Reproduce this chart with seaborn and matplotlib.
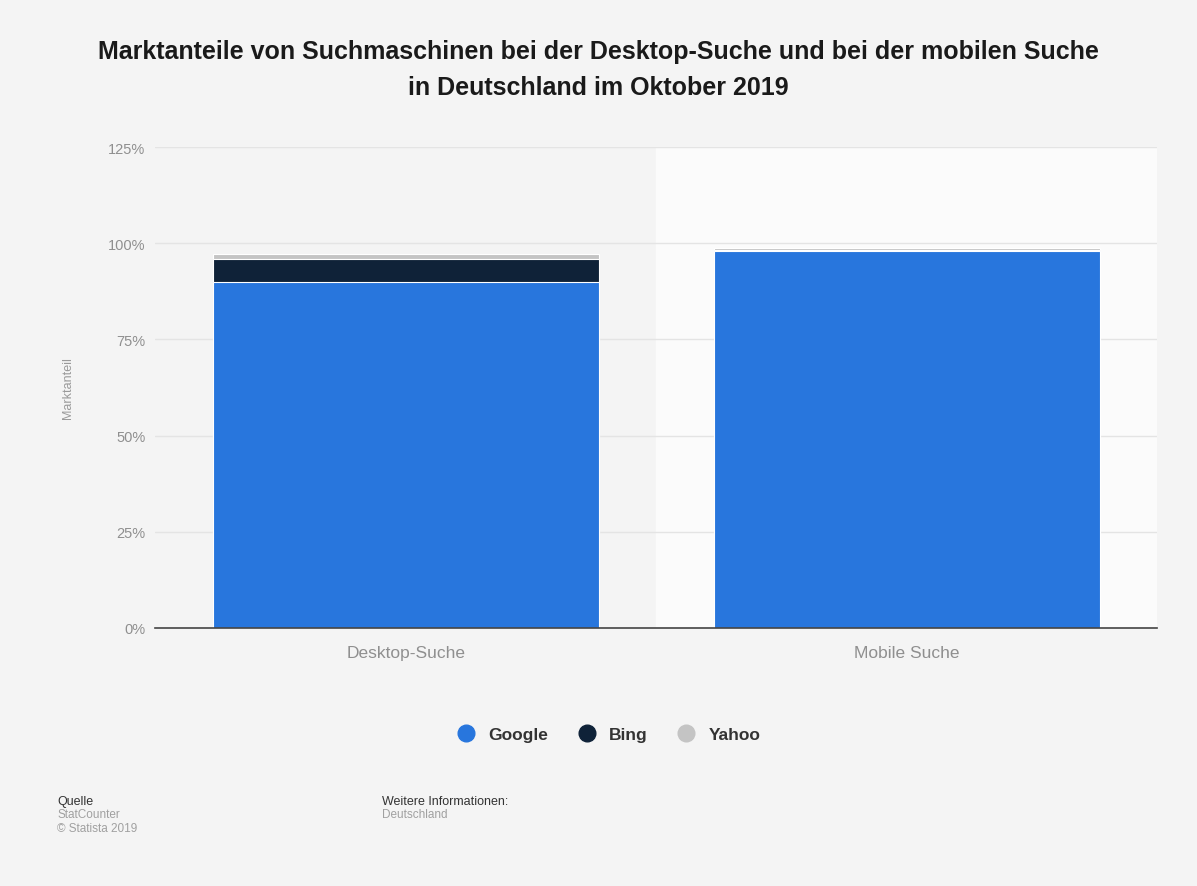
import matplotlib
matplotlib.use("Agg")
import matplotlib.pyplot as plt
import seaborn as sns
import pandas as pd
import numpy as np
from matplotlib.lines import Line2D

categories = ["Desktop-Suche", "Mobile Suche"]
google = [90.0, 97.9]
bing = [6.0, 0.3]
yahoo = [1.2, 0.5]
series_names = ["Google", "Bing", "Yahoo"]
colors = {"Google": "#2876dd", "Bing": "#0f2238", "Yahoo": "#c4c4c4"}
y_ticks = [0, 25, 50, 75, 100, 125]
y_tick_labels = ["0%", "25%", "50%", "75%", "100%", "125%"]

bg = "#f4f4f4"
sns.set_theme(style="white")
plt.rcParams["font.family"] = ["Liberation Sans", "DejaVu Sans"]

fig = plt.figure(figsize=(11.97, 8.87), dpi=100, facecolor=bg)
ax = fig.add_axes([0.1295, 0.291, 0.8375, 0.542])
ax.set_facecolor(bg)

df = pd.DataFrame({"cat": categories, "Google": google, "Bing": bing, "Yahoo": yahoo})
df["g"] = df["Google"]
df["gb"] = df["Google"] + df["Bing"]
df["gby"] = df["gb"] + df["Yahoo"]

ax.axvspan(0.5, 1.5, color="#fbfbfb", zorder=0)
for y in y_ticks[1:]:
    ax.axhline(y, color="#e4e4e4", lw=1, zorder=0.5)

for col, name in [("gby", "Yahoo"), ("gb", "Bing"), ("g", "Google")]:
    sns.barplot(data=df, x="cat", y=col, color=colors[name], saturation=1,
                width=0.77, ax=ax, edgecolor="white", linewidth=0.8, zorder=2)

ax.set_xlim(-0.5, 1.5)
ax.set_ylim(0, 125)
ax.set_yticks(y_ticks)
ax.set_yticklabels(y_tick_labels, color="#8f8f8f", fontsize=10.5)
ax.tick_params(axis="y", length=0, pad=7)
ax.tick_params(axis="x", length=0, pad=12, labelsize=12.5, labelcolor="#8f8f8f")
ax.set_xlabel("")
ax.set_ylabel("Marktanteil", color="#9a9a9a", fontsize=9, labelpad=24)
for s in ["top", "right", "left"]:
    ax.spines[s].set_visible(False)
ax.spines["bottom"].set_color("#444444")
ax.spines["bottom"].set_linewidth(1.2)
ax.spines["bottom"].set_zorder(3)

fig.text(0.5, 0.921, "Marktanteile von Suchmaschinen bei der Desktop-Suche und bei der mobilen Suche\nin Deutschland im Oktober 2019",
         ha="center", va="center", fontsize=18, fontweight="bold", color="#1a1a1a", linespacing=1.6)

handles = [Line2D([0], [0], marker="o", ls="", markersize=12, markerfacecolor=colors[n],
                  markeredgecolor=colors[n]) for n in series_names]
leg = fig.legend(handles, series_names, loc="center", bbox_to_anchor=(0.505, 0.171), ncol=3,
                 frameon=False, handletextpad=0.3, columnspacing=1.2, prop={"weight": "bold", "size": 12.5})
for t in leg.get_texts():
    t.set_color("#333333")

fig.text(0.048, 0.096, "Quelle", fontsize=9, color="#333333", va="center")
fig.text(0.048, 0.081, "StatCounter", fontsize=8.5, color="#a0a0a0", va="center")
fig.text(0.048, 0.065, "© Statista 2019", fontsize=8.5, color="#a0a0a0", va="center")
fig.text(0.319, 0.096, "Weitere Informationen:", fontsize=9, color="#333333", va="center")
fig.text(0.319, 0.081, "Deutschland", fontsize=8.5, color="#a0a0a0", va="center")

fig.savefig("out.png", dpi=100, facecolor=bg)
